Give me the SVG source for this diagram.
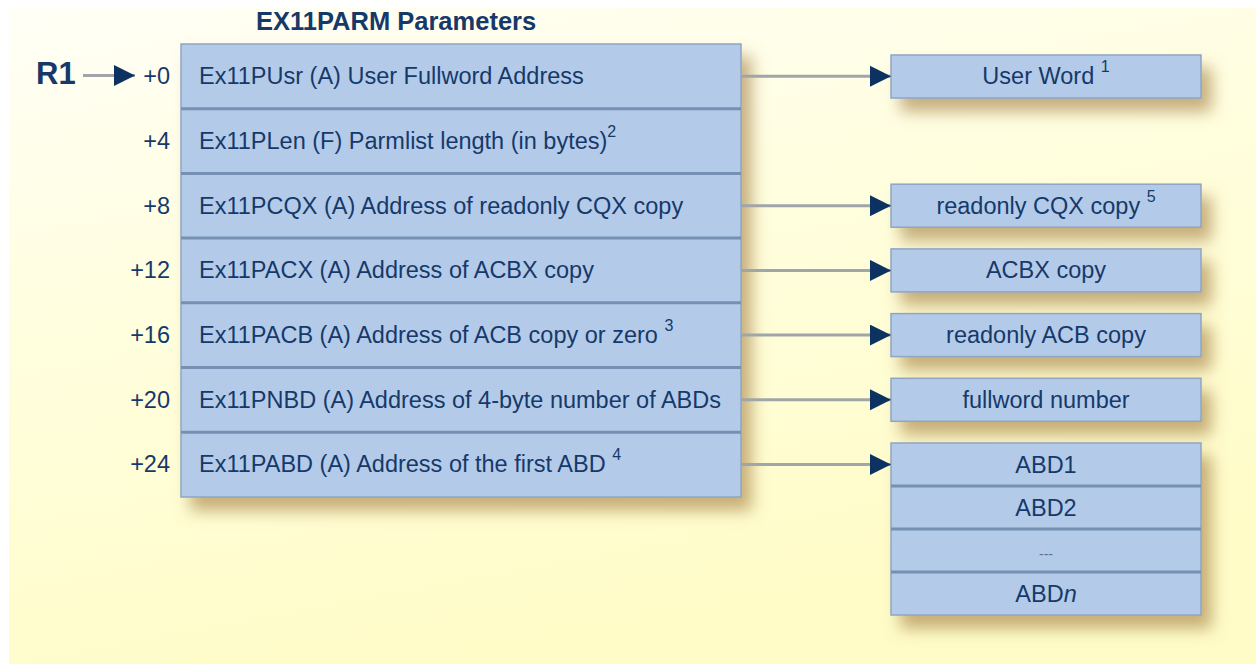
<svg xmlns="http://www.w3.org/2000/svg" width="1256" height="664" viewBox="0 0 1256 664">
<defs>
<linearGradient id="bg" x1="0" y1="0" x2="0.35" y2="1">
<stop offset="0" stop-color="#FFFFF6"/>
<stop offset="0.5" stop-color="#FFFEDC"/>
<stop offset="1" stop-color="#FFFCC8"/>
</linearGradient>
<filter id="sh" x="-20%" y="-60%" width="150%" height="260%">
<feDropShadow dx="10" dy="13" stdDeviation="8" flood-color="#A07A3E" flood-opacity="0.6"/>
</filter>
<filter id="shL" x="-10%" y="-10%" width="130%" height="130%">
<feDropShadow dx="10" dy="13" stdDeviation="8" flood-color="#A07A3E" flood-opacity="0.6"/>
</filter>
<marker id="ah" viewBox="0 0 21 21" refX="21" refY="10.5" markerWidth="21" markerHeight="21" markerUnits="userSpaceOnUse" orient="auto">
<path d="M0,0 L21,10.5 L0,21 Z" fill="#0B3261"/>
</marker>
</defs>
<style>
text{font-family:"Liberation Sans",Arial,sans-serif;fill:#16396A}
.t{font-size:23.5px}
.off{font-size:23.5px;text-anchor:end}
.c{font-size:23.5px;text-anchor:middle}
.sup{font-size:16px}
.box{fill:#B3CBE9;stroke:#8FA5C4;stroke-width:1.5}
.sep{stroke:#7590B2;stroke-width:3}
.con{stroke:#A0A5AA;stroke-width:3;fill:none}
</style>
<rect x="9" y="8" width="1247" height="656" fill="url(#bg)"/>
<text x="256" y="30" style="font-size:25.5px;font-weight:bold">EX11PARM Parameters</text>
<text x="36" y="84" style="font-size:31px;font-weight:bold">R1</text>

<g id="parmlist">
<rect class="box" x="181" y="44" width="560" height="453" filter="url(#shL)"/>
<line class="sep" x1="181" y1="108.7" x2="741" y2="108.7"/>
<line class="sep" x1="181" y1="173.4" x2="741" y2="173.4"/>
<line class="sep" x1="181" y1="238.1" x2="741" y2="238.1"/>
<line class="sep" x1="181" y1="302.8" x2="741" y2="302.8"/>
<line class="sep" x1="181" y1="367.5" x2="741" y2="367.5"/>
<line class="sep" x1="181" y1="432.2" x2="741" y2="432.2"/>
<g id="row0"><text class="off" x="170" y="84">+0</text><text class="t" x="199" y="84">Ex11PUsr (A) User Fullword Address</text></g>
<g id="row4"><text class="off" x="170" y="149">+4</text><text class="t" x="199" y="149">Ex11PLen (F) Parmlist length (in bytes)<tspan class="sup" dy="-12">2</tspan></text></g>
<g id="row8"><text class="off" x="170" y="214">+8</text><text class="t" x="199" y="214">Ex11PCQX (A) Address of readonly CQX copy</text></g>
<g id="row12"><text class="off" x="170" y="278">+12</text><text class="t" x="199" y="278">Ex11PACX (A) Address of ACBX copy</text></g>
<g id="row16"><text class="off" x="170" y="343">+16</text><text class="t" x="199" y="343">Ex11PACB (A) Address of ACB copy or zero <tspan class="sup" dy="-12">3</tspan></text></g>
<g id="row20"><text class="off" x="170" y="408">+20</text><text class="t" x="199" y="408">Ex11PNBD (A) Address of 4-byte number of ABDs</text></g>
<g id="row24"><text class="off" x="170" y="472">+24</text><text class="t" x="199" y="472">Ex11PABD (A) Address of the first ABD <tspan class="sup" dy="-12">4</tspan></text></g>
</g>

<g id="userword">
<rect class="box" x="891" y="55" width="310" height="43" filter="url(#sh)"/>
<text class="c" x="1046" y="84">User Word <tspan class="sup" dy="-12">1</tspan></text>
</g>
<g id="cqxcopy">
<rect class="box" x="891" y="184.2" width="310" height="43" filter="url(#sh)"/>
<text class="c" x="1046" y="214">readonly CQX copy <tspan class="sup" dy="-12">5</tspan></text>
</g>
<g id="acbxcopy">
<rect class="box" x="891" y="248.9" width="310" height="43" filter="url(#sh)"/>
<text class="c" x="1046" y="278">ACBX copy</text>
</g>
<g id="acbcopy">
<rect class="box" x="891" y="313.6" width="310" height="43" filter="url(#sh)"/>
<text class="c" x="1046" y="343">readonly ACB copy</text>
</g>
<g id="fullword">
<rect class="box" x="891" y="378.3" width="310" height="43" filter="url(#sh)"/>
<text class="c" x="1046" y="408">fullword number</text>
</g>
<g id="abdlist">
<rect class="box" x="891" y="443" width="310" height="172" filter="url(#shL)"/>
<line class="sep" x1="891" y1="486" x2="1201" y2="486"/>
<line class="sep" x1="891" y1="529" x2="1201" y2="529"/>
<line class="sep" x1="891" y1="572" x2="1201" y2="572"/>
<text class="c" x="1046" y="473">ABD1</text>
<text class="c" x="1046" y="516">ABD2</text>
<text class="c" x="1046" y="559" style="font-size:14px;fill:#5A7090">---</text>
<text class="c" x="1046" y="602">ABD<tspan font-style="italic">n</tspan></text>
</g>

<g id="connectors">
<line class="con" x1="83" y1="75.5" x2="135" y2="75.5" marker-end="url(#ah)"/>
<line class="con" x1="741" y1="76.3" x2="891" y2="76.3" marker-end="url(#ah)"/>
<line class="con" x1="741" y1="205.7" x2="891" y2="205.7" marker-end="url(#ah)"/>
<line class="con" x1="741" y1="270.4" x2="891" y2="270.4" marker-end="url(#ah)"/>
<line class="con" x1="741" y1="335.1" x2="891" y2="335.1" marker-end="url(#ah)"/>
<line class="con" x1="741" y1="399.8" x2="891" y2="399.8" marker-end="url(#ah)"/>
<line class="con" x1="741" y1="464.5" x2="891" y2="464.5" marker-end="url(#ah)"/>
</g>
</svg>
